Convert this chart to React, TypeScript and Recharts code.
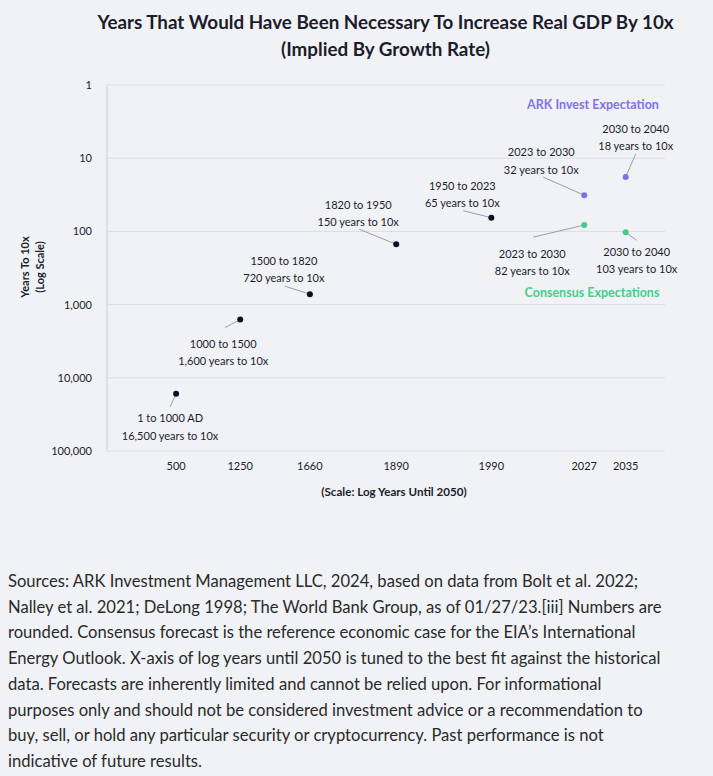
import React from 'react';
import { ScatterChart, Scatter, XAxis, YAxis, CartesianGrid } from 'recharts';

// Data
const historicalPeriods = ['1 to 1000 AD', '1000 to 1500', '1500 to 1820', '1820 to 1950', '1950 to 2023'];
const historicalYears = [500, 1250, 1660, 1890, 1990];
const historicalYearsTo10x = [16500, 1600, 720, 150, 65];

const forecastPeriods = ['2023 to 2030', '2030 to 2040'];
const forecastYears = [2027, 2035];
const arkYearsTo10x = [32, 18];
const consensusYearsTo10x = [82, 103];

const xTickYears = [500, 1250, 1660, 1890, 1990, 2027, 2035];
const yTicks = [1, 10, 100, 1000, 10000, 100000];

const BASE_YEAR = 2050;

const footnoteLines = [
  'Sources: ARK Investment Management LLC, 2024, based on data from Bolt et al. 2022;',
  'Nalley et al. 2021; DeLong 1998; The World Bank Group, as of 01/27/23.[iii] Numbers are',
  'rounded. Consensus forecast is the reference economic case for the EIA\u2019s International',
  'Energy Outlook. X-axis of log years until 2050 is tuned to the best fit against the historical',
  'data. Forecasts are inherently limited and cannot be relied upon. For informational',
  'purposes only and should not be considered investment advice or a recommendation to',
  'buy, sell, or hold any particular security or cryptocurrency. Past performance is not',
  'indicative of future results.',
];

// label placement relative to each dot: leader line end (lx, ly), text center (tx) and line offsets (t1, t2)
const historicalLabelPos = [
  { lx: -6, ly: 13, tx: -6, t1: 24, t2: 42 },
  { lx: -15, ly: 8, tx: -17, t1: 24, t2: 41 },
  { lx: -25, ly: -8, tx: -26, t1: -34, t2: -17 },
  { lx: -37, ly: -15, tx: -38, t1: -40, t2: -23 },
  { lx: -28, ly: -7, tx: -29, t1: -32, t2: -15 },
];
const arkLabelPos = [
  { lx: -41, ly: -18, tx: -43, t1: -44, t2: -26 },
  { lx: 10, ly: -23, tx: 10, t1: -48, t2: -31 },
];
const consensusLabelPos = [
  { lx: -51, ly: 12, tx: -52, t1: 28, t2: 45 },
  { lx: 11, ly: 8, tx: 11, t1: 19, t2: 36 },
];

const FONT = 'Lato, "Noto Sans", sans-serif';
const BG = '#f1f2f6';
const INK = '#1c1c2b';
const PURPLE = '#8070ee';
const GREEN = '#3fcf8a';

const build = (years: number[], values: number[], periods: string[]) =>
  years.map((yr, i) => ({ x: BASE_YEAR - yr, y: values[i], period: periods[i], i }));

const historical = build(historicalYears, historicalYearsTo10x, historicalPeriods);
const ark = build(forecastYears, arkYearsTo10x, forecastPeriods);
const consensus = build(forecastYears, consensusYearsTo10x, forecastPeriods);

const makeShape = (color: string, pos: typeof historicalLabelPos) => (props: any) => {
  const { cx, cy, payload } = props;
  const p = pos[payload.i];
  return (
    <g>
      <line x1={cx} y1={cy} x2={cx + p.lx} y2={cy + p.ly} stroke="#9c9ca8" strokeWidth={1} />
      <circle cx={cx} cy={cy} r={3} fill={color} />
      <text x={cx + p.tx} y={cy + p.t1} textAnchor="middle" dominantBaseline="central"
        fontSize={11} fontFamily={FONT} fill={INK}>
        {payload.period}
      </text>
      <text x={cx + p.tx} y={cy + p.t2} textAnchor="middle" dominantBaseline="central"
        fontSize={11} fontFamily={FONT} fill={INK}>
        {`${payload.y.toLocaleString('en-US')} years to 10x`}
      </text>
    </g>
  );
};

const abs = (style: React.CSSProperties): React.CSSProperties => ({ position: 'absolute', ...style });

export default function App() {
  return (
    <div style={{ position: 'absolute', left: 0, top: 0, width: 713, height: 776, background: BG, overflow: 'hidden', fontFamily: FONT }}>
      <div style={abs({ left: 0, top: 8, width: 771, textAlign: 'center', fontWeight: 700, fontSize: 18.8, lineHeight: '27px', color: INK })}>
        Years That Would Have Been Necessary To Increase Real GDP By 10x
        <br />
        (Implied By Growth Rate)
      </div>

      <ScatterChart width={713} height={520} margin={{ top: 85, right: 48, bottom: 19, left: 0 }}
        style={{ position: 'absolute', left: 0, top: 0 }}>
        <CartesianGrid vertical={false} stroke="#dcdde4" />
        <XAxis
          type="number"
          dataKey="x"
          scale="log"
          domain={[10, 3162]}
          reversed
          ticks={xTickYears.map((y) => BASE_YEAR - y)}
          tickFormatter={(v: number) => String(Math.round(BASE_YEAR - v))}
          axisLine={false}
          tickLine={false}
          tickMargin={5}
          height={50}
          tick={{ fontSize: 11, fontFamily: FONT, fill: INK }}
        />
        <YAxis
          type="number"
          dataKey="y"
          scale="log"
          domain={[1, 100000]}
          reversed
          ticks={yTicks}
          tickFormatter={(v: number) => v.toLocaleString('en-US')}
          axisLine={{ stroke: '#c9cad2' }}
          tickLine={false}
          tickMargin={9}
          width={107}
          tick={{ fontSize: 11, fontFamily: FONT, fill: INK }}
        />
        <Scatter data={historical} shape={makeShape('#0f0f2a', historicalLabelPos)} isAnimationActive={false} />
        <Scatter data={ark} shape={makeShape(PURPLE, arkLabelPos)} isAnimationActive={false} />
        <Scatter data={consensus} shape={makeShape(GREEN, consensusLabelPos)} isAnimationActive={false} />
      </ScatterChart>

      <div style={abs({ left: 593 - 100, top: 97, width: 200, textAlign: 'center', fontWeight: 700, fontSize: 12.5, color: PURPLE })}>
        ARK Invest Expectation
      </div>
      <div style={abs({ left: 592 - 100, top: 285, width: 200, textAlign: 'center', fontWeight: 700, fontSize: 12.5, color: GREEN })}>
        Consensus Expectations
      </div>

      <div style={abs({ left: 32 - 100, top: 267 - 15, width: 200, height: 30, transform: 'rotate(-90deg)', textAlign: 'center', fontWeight: 700, fontSize: 11, lineHeight: '15px', color: INK })}>
        Years To 10x
        <br />
        (Log Scale)
      </div>

      <div style={abs({ left: 394 - 150, top: 485, width: 300, textAlign: 'center', fontWeight: 700, fontSize: 11.6, color: INK })}>
        (Scale: Log Years Until 2050)
      </div>

      <div style={abs({ left: 8, top: 569, fontSize: 16.6, lineHeight: '25.7px', color: '#2a2a2a' })}>
        {footnoteLines.map((l) => (
          <div key={l} style={{ whiteSpace: 'nowrap' }}>{l}</div>
        ))}
      </div>
    </div>
  );
}
